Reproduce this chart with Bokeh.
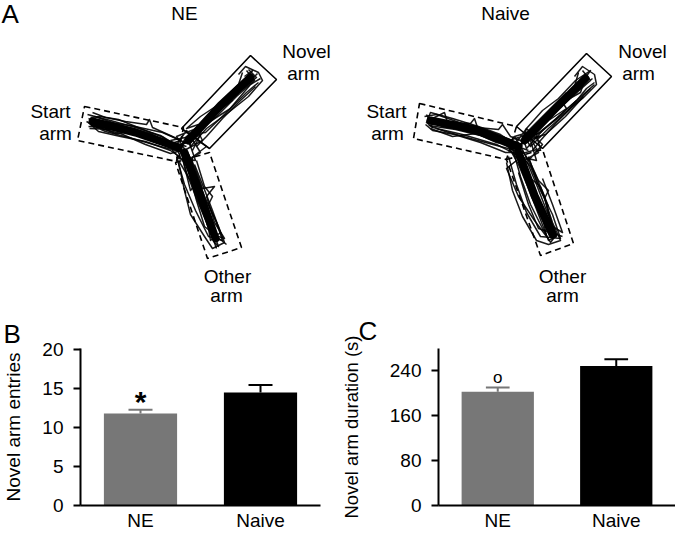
from bokeh.plotting import figure
from bokeh.layouts import column, row
from bokeh.models import Range1d, FixedTicker
from bokeh.core.properties import value
from bokeh.embed import file_html
from bokeh.resources import INLINE

FONT = "Liberation Sans"

# ---------------- data ----------------
groups = ["NE", "Naive"]
bar_colors = ["#777777", "#000000"]

entries_mean = [11.8, 14.5]
entries_sem = [0.5, 0.95]
entries_ticks = [0, 5, 10, 15, 20]
entries_sig = ["*", ""]

duration_mean = [203, 249]
duration_sem = [7.5, 12]
duration_ticks = [0, 80, 160, 240]
duration_sig = ["o", ""]

# Y-maze arm outlines (picture coordinates, y down)
ne_novel_box = [(250, 55), (276, 79), (209, 148), (181, 128)]
ne_start_box = [(84, 106), (183, 127), (176, 161), (77, 140)]
ne_other_box = [(175, 162), (209, 152), (241, 247), (207, 258)]
naive_novel_box = [(586, 53), (611, 76), (542, 148), (516, 126)]
naive_start_box = [(419, 103), (516, 126), (506, 159), (413, 138)]
naive_other_box = [(506, 159), (542, 149), (573, 243), (540, 255)]

# movement tracks
ne_tracks = [
    [(87,114),(110,120),(135,127),(160,135),(178,146),(155,139),(128,131),(100,124),(88,118)],
    [(89,128),(112,129),(140,134),(165,142),(183,152),(160,146),(132,138),(105,131),(90,124)],
    [(92,112),(105,117),(125,121),(146,124),(149,119),(152,127),(172,136),(186,143)],
    [(88,122),(98,131),(120,136),(145,141),(170,150),(180,157),(176,147),(150,133),(118,124),(94,116)],
    [(96,120),(130,125),(162,132),(180,140),(168,144),(140,136),(110,127),(88,126)],
    [(90,117),(100,116),(118,119),(140,128),(163,137),(181,150),(170,153),(145,144),(120,133),(97,127),(86,121)],
    [(94,125),(115,133),(135,131),(158,140),(176,143),(186,146)],
    [(248,69),(256,77),(236,94),(214,113),(196,130),(184,142),(200,128),(222,108),(244,86),(257,73)],
    [(242,72),(238,84),(220,102),(202,122),(186,136),(180,146),(196,134),(216,116),(236,96),(254,80),(246,70)],
    [(258,82),(246,92),(230,108),(211,120),(220,106),(204,126),(192,140)],
    [(244,76),(252,70),(240,90),(226,96),(232,100),(210,116),(190,134),(205,132),(228,110),(250,84),(260,78)],
    [(252,74),(235,88),(218,104),(200,116),(186,128),(198,124)],
    [(238,74),(245,66),(258,72),(262,80),(248,96),(228,112),(206,128),(190,146),(188,136),(210,112),(232,90)],
    [(255,86),(240,100),(222,118),(206,136),(196,146)],
    [(180,150),(186,172),(196,198),(206,222),(214,242),(218,246),(210,224),(200,198),(190,172),(183,156)],
    [(176,156),(184,184),(195,210),(208,236),(222,240),(216,222),(204,196),(196,174),(188,154)],
    [(186,150),(194,166),(202,188),(214,186),(206,196),(214,222),(224,238),(212,234),(200,206),(190,180),(178,160)],
    [(192,156),(192,178),(200,200),(208,228),(210,240),(220,232),(212,210),(202,184),(194,164)],
    [(182,158),(190,190),(198,180),(204,214),(216,248)],
    [(178,162),(184,190),(190,214),(204,236),(212,248),(224,242),(218,226),(208,204),(212,196),(204,186),(196,160)],
    [(188,170),(196,200),(204,226),(226,244)],
    [(170,140),(190,136),(200,152),(184,162),(172,150),(186,130),(206,146),(190,158),(176,136),(196,128),(202,140),(180,152)],
    [(174,148),(188,140),(195,160),(178,158),(183,142),(200,134),(192,150)],
]
ne_cores = [
    [(92,121),(135,132),(178,147)],
    [(250,77),(220,105),(188,140)],
    [(184,152),(200,195),(215,238)],
]

naive_tracks = [
    [(426,114),(432,127),(426,122),(430,112),(452,118),(478,126),(500,134),(518,146),(495,139),(466,131),(440,124),(428,118)],
    [(428,125),(455,129),(480,135),(505,145),(522,152),(500,146),(470,138),(445,131),(430,126)],
    [(432,118),(444,112),(447,122),(470,123),(474,118),(477,127),(498,129),(502,124),(510,136),(525,142)],
    [(430,121),(458,122),(488,131),(512,140),(520,156),(496,144),(462,134),(436,128)],
    [(440,126),(470,130),(500,140),(516,149),(490,133),(460,125)],
    [(424,116),(436,114),(456,121),(478,131),(500,141),(516,152),(505,152),(480,142),(454,134),(432,130),(425,124)],
    [(430,128),(452,136),(476,133),(496,142),(514,145),(528,150)],
    [(582,70),(590,80),(572,96),(552,114),(534,130),(520,144),(538,126),(558,108),(578,90),(592,78)],
    [(578,72),(574,86),(556,104),(540,120),(524,136),(530,146),(548,128),(568,110),(586,88),(594,82)],
    [(586,74),(580,92),(562,102),(566,108),(548,120),(530,138),(545,134),(565,116),(583,96)],
    [(580,84),(590,70),(575,80),(558,98),(542,110),(526,128),(522,140),(540,132),(560,114),(576,100)],
    [(594,84),(576,100),(556,118),(536,134),(528,130)],
    [(574,76),(582,66),(594,74),(596,84),(582,98),(562,114),(542,130),(526,148),(522,136),(544,114),(566,92)],
    [(590,88),(574,104),(556,122),(540,140),(532,150)],
    [(512,148),(520,176),(530,204),(542,228),(550,242),(556,234),(546,210),(536,184),(526,160)],
    [(508,156),(516,184),(526,212),(540,236),(560,238),(552,214),(540,190),(530,166),(518,152)],
    [(522,150),(534,172),(544,196),(548,214),(556,236),(548,240),(538,214),(528,188),(518,164),(510,150)],
    [(516,160),(506,168),(518,196),(534,220),(546,236),(540,204),(530,178),(540,186),(548,206)],
    [(528,156),(536,180),(545,200),(552,226),(562,232),(552,204),(542,178)],
    [(506,162),(512,190),(522,216),(536,240),(548,244),(560,240),(552,222),(544,198),(548,190),(538,180),(528,158)],
    [(518,172),(528,204),(538,228),(562,236)],
    [(508,140),(528,134),(538,152),(520,162),(510,150),(526,128),(542,144),(528,160),(514,136),(534,130),(540,148),(518,154)],
    [(512,146),(530,140),(536,160),(518,156),(522,142),(540,136)],
]
naive_cores = [
    [(430,120),(475,129),(518,146)],
    [(585,78),(555,108),(524,140)],
    [(518,152),(534,195),(552,234)],
]

# panel A texts (baselines)
a_texts = ["NE", "Naive", "Start", "arm", "Novel", "arm", "Other", "arm",
           "Start", "arm", "Novel", "arm", "Other", "arm"]
a_text_x = [184, 505, 50, 55, 306, 303, 227, 226, 386, 387, 642, 638, 562, 562]
a_text_y = [20, 20, 118, 140, 58, 80, 283, 302, 118, 140, 58, 80, 283, 302]

# ---------------- panel A ----------------
pA = figure(width=675, height=306, x_range=Range1d(0, 675), y_range=Range1d(306, 0),
            output_backend="svg", toolbar_location=None,
            x_axis_location=None, y_axis_location=None,
            min_border=0, outline_line_color=None)
pA.grid.visible = False

def xs_of(polys):
    return [[pt[0] for pt in poly] for poly in polys]

def ys_of(polys):
    return [[pt[1] for pt in poly] for poly in polys]

solid_boxes = [ne_novel_box, naive_novel_box]
dashed_boxes = [ne_start_box, ne_other_box, naive_start_box, naive_other_box]
pA.patches(xs_of(solid_boxes), ys_of(solid_boxes), fill_color=None,
           line_color="black", line_width=1.6)
pA.patches(xs_of(dashed_boxes), ys_of(dashed_boxes), fill_color=None,
           line_color="black", line_width=1.6, line_dash="6 4")

cores = ne_cores + naive_cores
pA.multi_line(xs_of(cores), ys_of(cores), line_color="#000000", line_width=8,
              line_cap="round", line_join="round")
tracks = ne_tracks + naive_tracks
pA.multi_line(xs_of(tracks), ys_of(tracks), line_color="#000000", line_width=1.5,
              line_alpha=0.9, line_join="round")

pA.text(x=a_text_x, y=a_text_y, text=a_texts, text_font=value(FONT),
        text_font_size=value("19px"), text_align="center",
        text_baseline="alphabetic", y_offset=-7, text_color="black")
pA.text(x=[1], y=[25], text=["A"], text_font=value(FONT),
        text_font_size=value("26px"), text_align="left",
        text_baseline="alphabetic", y_offset=-12, text_color="black")

# ---------------- panels B and C ----------------
def bar_panel(width, border_left, border_right, x_end, means, sems, ticks,
              y_end, ylabel, ylabel_size, sig, sig_font, sig_style, sig_offset,
              letter, letter_offset, letter_standoff, label_standoff):
    p = figure(width=width, height=227, x_range=Range1d(0, x_end),
               y_range=Range1d(0, y_end), output_backend="svg",
               toolbar_location=None, min_border_left=border_left,
               min_border_right=border_right, min_border_top=42,
               min_border_bottom=25, outline_line_color=None, title=letter)
    p.xgrid.visible = False
    p.ygrid.visible = False
    p.title.align = "left"
    p.title.offset = letter_offset
    p.title.text_font = FONT
    p.title.text_font_size = "26px"
    p.title.text_font_style = "normal"
    p.title.text_color = "black"
    p.title.standoff = letter_standoff

    xpos = [i + 0.5 for i in range(len(groups))]
    tops = [m + s for m, s in zip(means, sems)]
    p.vbar(x=xpos, top=means, bottom=0, width=0.61, fill_color=bar_colors,
           line_color=None)
    p.segment(x0=xpos, y0=means, x1=xpos, y1=tops, line_color=bar_colors,
              line_width=2)
    p.segment(x0=[x - 0.1 for x in xpos], y0=tops, x1=[x + 0.1 for x in xpos],
              y1=tops, line_color=bar_colors, line_width=2)
    p.text(x=xpos, y=tops, text=sig, text_font=value(FONT),
           text_font_size=value(sig_font), text_font_style=sig_style,
           text_align="center", text_baseline="alphabetic",
           y_offset=sig_offset, text_color="black")

    xa = p.xaxis[0]
    xa.ticker = FixedTicker(ticks=xpos)
    xa.major_label_overrides = {x: g for x, g in zip(xpos, groups)}
    xa.major_tick_out = 0
    xa.major_tick_in = 0
    xa.minor_tick_out = 0
    xa.minor_tick_in = 0
    xa.axis_line_width = 2
    xa.axis_line_color = "black"
    xa.major_label_text_font = FONT
    xa.major_label_text_font_size = "19px"
    xa.major_label_text_color = "black"
    xa.major_label_standoff = 4

    ya = p.yaxis[0]
    ya.ticker = FixedTicker(ticks=ticks)
    ya.major_tick_out = 7
    ya.major_tick_in = 0
    ya.minor_tick_out = 0
    ya.minor_tick_in = 0
    ya.major_tick_line_width = 2
    ya.major_tick_line_color = "black"
    ya.axis_line_width = 2
    ya.axis_line_color = "black"
    ya.major_label_text_font = FONT
    ya.major_label_text_font_size = "19px"
    ya.major_label_text_color = "black"
    ya.major_label_standoff = 10
    ya.axis_label = ylabel
    ya.axis_label_text_font = FONT
    ya.axis_label_text_font_size = ylabel_size
    ya.axis_label_text_font_style = "normal"
    ya.axis_label_text_color = "black"
    ya.axis_label_standoff = label_standoff
    return p

pB = bar_panel(337, 79, 17, 2.0, entries_mean, entries_sem, entries_ticks,
               20.15, "Novel arm entries", "19px", entries_sig, "30px", "bold", -8,
               "B", -77, 0, 15)
pC = bar_panel(338, 97, 0, 2.0, duration_mean, duration_sem, duration_ticks,
               280, "Novel arm duration (s)", "18.5px", duration_sig, "17px", "normal", -10,
               "C", -80, 6, 25)

layout = column(pA, row(pB, pC))
open("out.html", "w").write(file_html(layout, INLINE))
